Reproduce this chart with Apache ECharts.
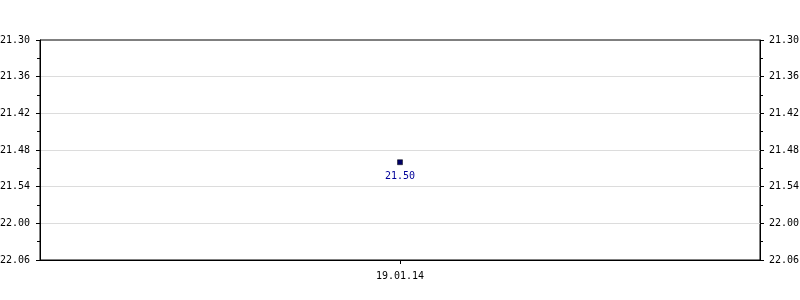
<!DOCTYPE html>
<html><head><meta charset="utf-8">
<script src="https://cdn.jsdelivr.net/npm/echarts@6/dist/echarts.min.js"></script>
<style>html,body{margin:0;padding:0;background:#fff}#c{width:800px;height:300px}</style>
</head><body><div id="c"></div>
<script>
const categories = ['19.01.14'];
const seriesValues = ['21.50'];           // time values as shown (HH.MM)
const yMinLabel = '21.30';
const yMaxLabel = '22.06';
const yStepMinutes = 6;

function toMin(s){ const p = s.split('.'); return (+p[0])*60 + (+p[1]); }
function toLabel(m){ const h = Math.floor(m/60), mm = Math.round(m - h*60); return h + '.' + String(mm).padStart(2,'0'); }

const font = 'DejaVu Sans Mono';
const yAxisCommon = {
  type: 'value', inverse: true,
  min: toMin(yMinLabel), max: toMin(yMaxLabel), interval: yStepMinutes,
  axisLine: { show: true, lineStyle: { color: '#000', width: 1 } },
  axisTick: { show: true, length: 4, lineStyle: { color: '#000' } },
  minorTick: { show: true, splitNumber: 2, length: 3, lineStyle: { color: '#000' } },
  axisLabel: { fontFamily: font, fontSize: 10, color: '#000', formatter: v => toLabel(v) },
};
const chart = echarts.init(document.getElementById('c'), null, { renderer: 'canvas' });
chart.setOption({
  animation: false,
  grid: { left: 40, right: 40, top: 40, bottom: 40, outerBoundsMode: 'none', containLabel: false,
          show: true, borderColor: '#000', borderWidth: 1, backgroundColor: 'transparent' },
  xAxis: {
    type: 'category', data: categories,
    axisLine: { show: true, lineStyle: { color: '#000' } },
    axisTick: { show: true, length: 4, alignWithLabel: true, lineStyle: { color: '#000' } },
    axisLabel: { fontFamily: font, fontSize: 10, color: '#000', margin: 11 },
    splitLine: { show: false }
  },
  yAxis: [
    Object.assign({}, yAxisCommon, { position: 'left',
      axisLabel: Object.assign({}, yAxisCommon.axisLabel, { margin: 10 }),
      splitLine: { show: true, showMinLine: false, showMaxLine: false, lineStyle: { color: '#dcdcdc' } } }),
    Object.assign({}, yAxisCommon, { position: 'right',
      axisLabel: Object.assign({}, yAxisCommon.axisLabel, { margin: 9 }),
      splitLine: { show: false } })
  ],
  series: [{
    type: 'line', yAxisIndex: 0,
    data: seriesValues.map(toMin),
    symbol: 'rect', symbolSize: 5, showSymbol: true,
    itemStyle: { color: '#000066', borderColor: '#000', borderWidth: 0.5 },
    lineStyle: { width: 0 },
    label: { show: true, position: 'bottom', distance: 6, fontFamily: font, fontSize: 10, color: '#000099',
      formatter: p => toLabel(p.value) }
  }]
});
</script></body></html>
